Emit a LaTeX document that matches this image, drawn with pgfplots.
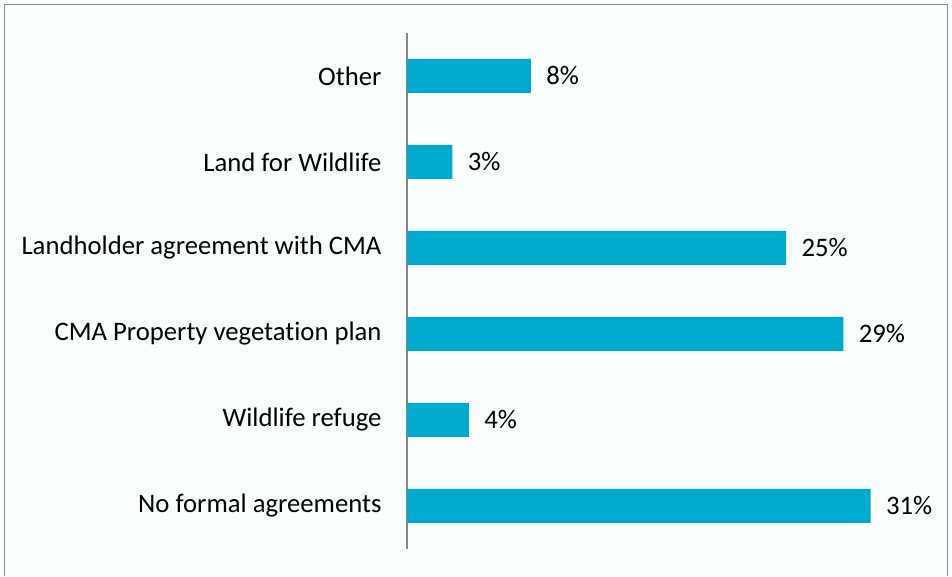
\documentclass[border=0pt]{standalone}
\usepackage{pgfplots}
\pgfplotsset{compat=1.18}
\usepackage{fontspec}
\setmainfont{Carlito}[Ligatures={NoCommon,NoRare,NoDiscretionary}]
\definecolor{barc}{HTML}{00A9CE}
\definecolor{bg}{HTML}{FAFEFF}
\definecolor{axc}{HTML}{868686}
\begin{document}
\begin{tikzpicture}[x=1bp,y=1bp]
\fill[bg] (0,0) rectangle (952,576);
\draw[axc,line width=1.5bp] (4.5,0) -- (4.5,571.5) -- (947.5,571.5) -- (947.5,0);
\begin{axis}[
  at={(407bp,27bp)}, anchor=south west,
  scale only axis,
  width=528.5bp, height=516bp,
  xmin=0, xmax=35,
  ymin=-0.5, ymax=5.5,
  xbar, bar width=34bp,
  axis x line=none,
  axis y line*=left,
  y axis line style={axc, line width=1.2bp, -},
  ytick={0,1,2,3,4,5},
  yticklabels={No formal agreements,Wildlife refuge,CMA Property vegetation plan,Landholder agreement with CMA,Land for Wildlife,Other},
  major tick length=0pt,
  yticklabel style={font=\fontsize{26.8}{30}\selectfont, xshift=-22bp},
  nodes near coords,
  point meta=explicit symbolic,
  every node near coord/.append style={font=\fontsize{26.8}{30}\selectfont, black, xshift=12bp, anchor=west},
  clip=false,
]
\addplot[fill=barc, draw=none] coordinates {
 (30.7,0) [31\%]
 (4.1,1) [4\%]
 (28.9,2) [29\%]
 (25.1,3) [25\%]
 (3.0,4) [3\%]
 (8.2,5) [8\%]
};
\end{axis}
\end{tikzpicture}
\end{document}
